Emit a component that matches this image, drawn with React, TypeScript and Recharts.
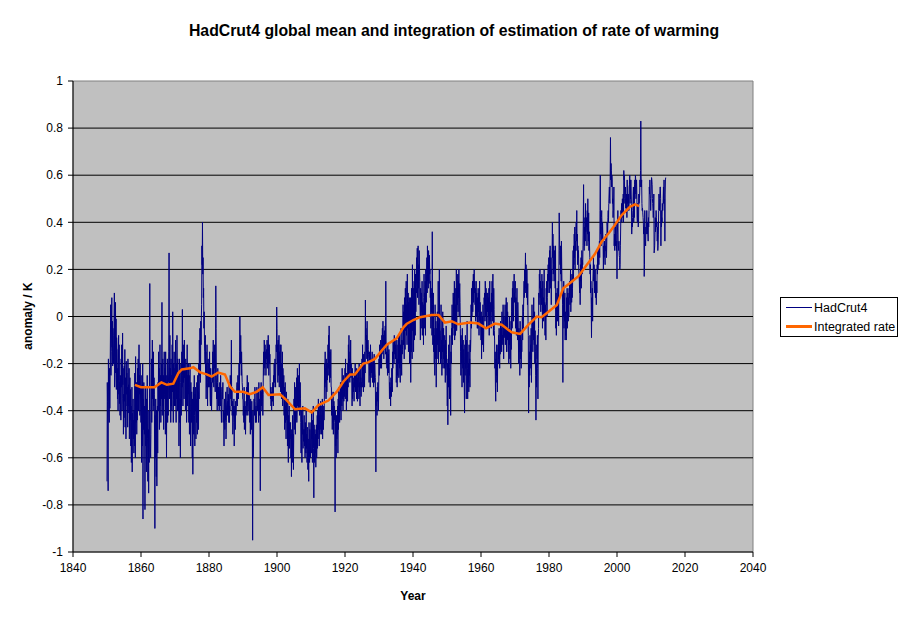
import React from 'react';
import { LineChart, Line, XAxis, YAxis, ReferenceArea, ReferenceLine, Legend } from 'recharts';

// HadCrut4 monthly anomalies in hundredths of a kelvin, one row per year (Jan..Dec)
const hadcrut1850s = [
  -70, -28, -36, -58, -74, -18, -32, -40, -45, -22, -39, -25,
  -10, 5, -25, -15, 0, 8, -13, -2, -21, -5, -8, -20,
  -18, -2, 10, -30, -26, -8, 6, -24, -1, -31, -9, -14,
  -14, -35, -22, -40, -20, -8, -33, -12, -37, -28, -42, -25,
  -26, -44, -18, -30, -12, -40, -35, -7, -29, -22, -50, -33,
  -43, -21, -36, -14, -47, -26, -31, -52, -19, -33, -24, -38,
  -30, -47, -18, -38, -29, -41, -22, -52, -35, -26, -44, -31,
  -55, -38, -62, -45, -30, -66, -41, -48, -35, -52, -44, -58,
  -40, -55, -24, -38, -60, -17, -36, -45, -28, -50, -32, -44,
  -22, -35, -18, -40, -28, -12, -33, -25, -42, -20, -30, -38,
];
const hadcrut1860s = [
  -45, -30, -62, -25, -40, -55, -20, -86, -35, -48, -28, -42,
  -50, -38, -82, -44, -30, -55, -40, -66, -35, -48, -25, -52,
  -70, -58, -48, -75, -40, -62, -35, 14, -45, -55, -60, -50,
  -30, -18, -45, -28, -10, -35, -22, -40, -15, -38, -26, -33,
  -55, -90, -42, -60, -35, -50, -68, -40, -72, -45, -38, -58,
  -28, -40, -15, -35, -22, -48, -30, -12, -38, -25, -45, -32,
  -20, -35, 6, -42, -28, -18, -38, -25, -48, -30, -15, -33,
  -35, -22, -50, -15, -40, -28, -60, -25, -38, -18, -45, -30,
  -42, -28, -15, 27, -20, -35, -8, -30, -22, -45, -18, -38,
  -25, -40, -12, -32, 2, -28, -45, -20, -35, -15, -38, -30,
];
const hadcrut1870s = [
  -22, -38, -10, -30, -45, -20, -35, -8, -28, -40, -18, -32,
  -40, -25, -55, -30, -18, -45, -35, -60, -28, -20, -42, -35,
  -15, -30, 3, -25, -38, -12, -28, -20, -35, -10, -26, -22,
  -28, -40, -18, -35, -22, -45, -30, -12, -38, -25, -33, -20,
  -30, -45, -25, -50, -35, -20, -40, -55, -28, -38, -45, -32,
  -45, -60, -35, -67, -40, -30, -50, -38, -25, -42, -55, -33,
  -40, -30, -52, -35, -45, -28, -38, -50, -25, -40, -32, -48,
  -20, -35, -10, -25, -5, -18, -28, -2, -12, 0, 5, 30,
  22, 40, 18, 25, 8, 12, -5, 2, -10, -15, -20, -8,
  -25, -15, -35, -20, -30, -12, -28, -38, -22, -18, -30, -25,
];
const hadcrut1880s = [
  -20, -30, -15, -25, -35, -38, -22, -30, -28, -40, -32, -25,
  -28, -15, -20, -10, -25, -30, -18, -22, -12, -28, -32, -20,
  13, -5, -25, -35, -30, -40, -28, -22, -35, -30, -38, -30,
  -40, -35, -28, -30, -38, -25, -33, -40, -45, -32, -30, -35,
  -35, -28, -45, -40, -42, -55, -38, -35, -48, -41, -44, -32,
  -52, -45, -38, -35, -30, -42, -36, -40, -33, -38, -45, -28,
  -45, -38, -40, -25, -30, -35, -28, -10, -38, -30, -42, -36,
  -50, -45, -38, -42, -35, -55, -40, -38, -44, -48, -36, -42,
  -40, -35, -30, -28, -38, -32, -25, -30, -35, -28, -20, -32,
  -15, 0, -12, -20, -8, -18, -25, -15, -22, -28, -30, -35,
];
const hadcrut1890s = [
  -35, -42, -38, -45, -30, -48, -40, -36, -44, -50, -38, -42,
  -40, -30, -38, -25, -35, -42, -30, -28, -36, -40, -33, -38,
  -45, -38, -50, -35, -42, -40, -48, -36, -45, -52, -95, -40,
  -60, -55, -40, -35, -38, -42, -30, -36, -45, -40, -38, -45,
  -42, -30, -35, -38, -40, -32, -36, -45, -28, -38, -42, -35,
  -40, -74, -30, -35, -28, -38, -32, -40, -36, -30, -42, -33,
  -20, -15, -25, -10, -18, -22, -12, -20, -15, -25, -18, -14,
  -18, -10, -22, -12, -20, -8, -15, -25, -18, -12, -20, -16,
  -28, -35, -30, -38, -32, -40, -35, -30, -36, -28, -33, -38,
  -25, -30, -20, -28, -22, -18, -26, -30, -20, -12, -15, 4,
];
const hadcrut1900s = [
  -5, -20, -12, -28, -10, -25, -18, -8, -30, -15, -22, -12,
  -18, -32, -12, -28, -35, -20, -30, -15, -38, -22, -27, -33,
  -25, -42, -30, -48, -35, -28, -45, -38, -52, -32, -40, -44,
  -40, -55, -35, -50, -62, -42, -48, -38, -56, -45, -52, -47,
  -45, -60, -50, -68, -48, -55, -62, -42, -58, -50, -65, -52,
  -35, -48, -28, -42, -36, -50, -30, -44, -38, -26, -45, -40,
  -22, -38, -30, -25, -40, -28, -36, -20, -42, -33, -28, -35,
  -45, -58, -40, -52, -62, -44, -50, -38, -56, -48, -53, -46,
  -42, -55, -48, -60, -45, -52, -58, -40, -56, -50, -62, -47,
  -48, -65, -52, -58, -70, -45, -55, -62, -48, -56, -60, -52,
];
const hadcrut1910s = [
  -45, -58, -40, -52, -48, -62, -44, -50, -38, -56, -77, -46,
  -55, -62, -48, -58, -50, -64, -52, -46, -60, -54, -42, -56,
  -40, -52, -35, -48, -42, -55, -46, -38, -50, -44, -36, -48,
  -42, -50, -38, -46, -35, -52, -40, -45, -48, -38, -44, -36,
  -20, -30, -15, -28, -22, -35, -18, -25, -32, -20, -27, -24,
  -12, -22, -8, -25, -4, -18, -28, -15, -20, -26, -14, -30,
  -30, -42, -35, -48, -38, -45, -32, -50, -40, -36, -44, -38,
  -45, -83, -40, -55, -48, -60, -42, -52, -46, -50, -38, -58,
  -35, -48, -30, -42, -36, -45, -32, -40, -28, -38, -44, -35,
  -28, -38, -22, -35, -30, -40, -25, -32, -36, -28, -34, -30,
];
const hadcrut1920s = [
  -22, -35, -18, -30, -28, -40, -24, -32, -26, -36, -20, -30,
  -12, -25, -8, -20, -18, -28, -15, -22, -10, -26, -20, -24,
  -25, -38, -22, -35, -28, -30, -32, -26, -36, -24, -30, -28,
  -20, -32, -25, -30, -22, -35, -28, -24, -36, -26, -30, -22,
  -24, -35, -20, -32, -28, -38, -22, -30, -26, -34, -28, -30,
  -18, -30, -12, -28, -22, -32, -16, -25, -20, -30, -15, -24,
  7, -10, -5, -15, -8, -18, -2, -12, -20, -10, -14, -16,
  -18, -28, -15, -25, -20, -30, -12, -22, -26, -18, -24, -20,
  -15, -28, -20, -25, -18, -30, -22, -16, -28, -20, -24, -26,
  -40, -66, -35, -38, -32, -42, -30, -36, -28, -34, -40, -30,
];
const hadcrut1930s = [
  -18, -25, -12, -20, -15, -22, -10, -18, -14, -22, -8, -16,
  -5, -15, -2, -12, -8, -18, -10, -6, -14, -12, -4, -16,
  15, -10, -20, -15, -22, -18, -25, -12, -20, -16, -24, -14,
  -25, -35, -28, -32, -30, -38, -26, -30, -34, -22, -28, -32,
  -15, -22, -10, -18, -12, -20, -8, -14, -16, -10, -18, -12,
  -15, -28, -22, -10, -30, -18, -25, -12, -20, -8, -26, -22,
  -8, -22, -15, -28, -12, -20, -5, -18, -25, -10, -16, -14,
  -10, 5, -12, 2, -8, -18, 8, -4, -14, 12, -6, -2,
  15, -8, 5, -12, 18, -5, 0, 10, -15, 6, -2, 8,
  -20, -5, -12, 8, -28, -3, -15, 12, -8, -18, 22, -6,
];
const hadcrut1940s = [
  -5, 12, -15, 8, 15, -10, 20, 5, -8, 18, 2, 12,
  10, 25, 15, 29, 8, 18, 30, 12, 22, 5, 28, 20,
  15, 5, -10, 12, 8, -5, 10, 2, 15, -8, 6, 0,
  5, -12, 8, 18, -5, 10, 2, 15, -8, 20, 12, 6,
  18, 25, 10, 30, 15, 22, 12, 28, 20, 14, 26, 18,
  20, 8, 15, -5, 12, 2, 10, -8, 36, 5, -12, 6,
  10, -15, -5, -20, -8, -25, 5, -12, -18, -2, -30, -10,
  -5, -18, 2, -12, -8, 15, -20, -3, -10, 20, -15, -6,
  -8, -20, -12, 5, -18, -10, -25, -5, -15, 2, -22, -12,
  -5, -18, -12, -22, -8, -15, -28, -10, -20, -4, -16, -25,
];
const hadcrut1950s = [
  -25, -38, -20, -46, -18, -30, -12, -28, -22, -35, -8, -26,
  -30, -42, -15, -20, -5, -10, 5, -12, 0, -8, 10, -2,
  8, -5, 15, -10, 2, 12, -8, 5, -2, 20, -6, 0,
  12, 5, 18, 2, 15, 8, 20, 0, 10, 14, 6, -5,
  -15, -25, -8, -20, -12, -30, -5, -18, -22, -10, -28, -14,
  -18, -30, -41, -12, -25, -8, -22, -15, -35, -10, -20, -2,
  -22, -35, -15, -28, -20, -32, -12, -25, -18, -30, -10, -15,
  -10, 5, -5, 12, 0, 8, 15, 2, 10, 18, 6, 12,
  20, 10, 15, 5, 12, -2, 8, 15, 0, 10, 5, -5,
  8, -5, 12, 2, 10, -8, 5, 15, -2, 6, 0, -4,
];
const hadcrut1960s = [
  -10, 2, -18, -5, -8, 0, -12, 5, -6, -15, -2, 8,
  5, 10, -2, 15, 8, 0, 12, 4, -5, 10, 6, 2,
  10, -5, 8, 0, 12, -8, 5, 15, -2, 6, 0, -4,
  -5, 10, 2, 15, -2, 8, 18, 5, -8, 12, 3, -6,
  -10, -22, -15, -30, -36, -18, -25, -12, -28, -20, -32, -15,
  -12, -20, -8, -18, -5, -15, -22, -10, -16, -2, -14, -8,
  -5, -15, 2, -10, -8, -12, 5, -6, -18, 0, -9, -4,
  -8, 5, -12, 0, -5, 8, -15, -2, 6, -10, 2, -4,
  -15, -5, -20, -8, -12, 0, -18, -10, -6, -22, -2, -14,
  2, 8, -5, 12, 0, 15, 5, -2, 10, 18, 6, 10,
];
const hadcrut1970s = [
  10, 15, -5, 8, 2, -8, 5, 12, -2, -10, 6, 0,
  -10, -20, -5, -15, -8, -25, -2, -12, -18, -6, -22, -10,
  -15, -8, 0, -10, 5, -5, 2, 10, 15, 8, 20, 12,
  18, 27, 10, 22, 15, 8, 20, 12, 5, 14, -2, -8,
  -41, -20, -30, -15, -25, -8, -18, -12, -22, -5, -28, -15,
  5, -8, -2, -15, 0, -10, 8, -5, -12, 2, -20, -6,
  -15, -25, -44, -20, -30, -12, -18, -8, -22, -35, -10, -5,
  10, 5, 18, 12, 20, 8, 15, 2, 12, 5, 8, 18,
  10, -5, 15, 2, 8, -2, 12, 20, 0, 6, -8, 5,
  2, -10, 12, 5, 15, 0, 8, 18, 10, 22, 15, 25,
];
const hadcrut1980s = [
  22, 10, 28, 15, 30, 12, 18, 25, 5, 20, 15, 28,
  40, 25, 35, 18, 22, 30, 15, 28, 20, 25, 12, 30,
  -5, 10, -8, 5, 0, 12, -2, 8, 2, 15, -4, 20,
  44, 35, 28, 22, 30, 18, 25, 15, 32, 20, 12, 10,
  5, -28, 12, 0, 15, -5, 8, -2, 10, -10, 2, -8,
  0, -10, 8, 2, 12, -5, 5, 10, -2, 8, 0, 12,
  8, 15, 5, 12, 20, 2, 10, 15, 6, 18, 8, 12,
  20, 28, 15, 30, 22, 35, 25, 38, 20, 32, 28, 36,
  40, 32, 45, 28, 35, 22, 30, 25, 28, 20, 18, 15,
  10, 18, 5, 22, 15, 25, 12, 20, 28, 18, 24, 22,
];
const hadcrut1990s = [
  30, 40, 56, 35, 28, 38, 30, 42, 32, 48, 36, 40,
  38, 42, 30, 45, 35, 50, 40, 32, 44, 28, 36, 30,
  25, 18, 22, 10, 15, 5, -9, 8, 2, 12, -2, 15,
  20, 25, 15, 22, 18, 10, 12, 20, 8, 15, 10, 5,
  15, 10, 22, 18, 28, 20, 25, 30, 22, 28, 32, 25,
  45, 60, 35, 38, 30, 42, 45, 38, 32, 40, 35, 30,
  20, 30, 25, 28, 32, 25, 22, 30, 28, 35, 30, 25,
  32, 40, 38, 35, 42, 45, 40, 48, 52, 55, 50, 48,
  60, 76, 58, 65, 62, 55, 60, 58, 48, 50, 42, 45,
  45, 55, 30, 35, 28, 32, 38, 30, 35, 40, 28, 32,
];
const hadcrut2000s = [
  16, 35, 38, 45, 32, 30, 28, 32, 26, 25, 20, 22,
  30, 38, 45, 42, 48, 40, 45, 50, 44, 42, 52, 40,
  62, 58, 60, 50, 48, 52, 55, 46, 50, 44, 52, 42,
  58, 48, 50, 45, 52, 48, 45, 55, 56, 60, 48, 58,
  50, 58, 52, 48, 35, 40, 38, 42, 45, 52, 55, 40,
  52, 42, 56, 58, 52, 60, 58, 50, 55, 58, 52, 42,
  40, 48, 42, 38, 40, 52, 48, 50, 52, 58, 55, 62,
  83, 60, 55, 58, 48, 45, 46, 44, 42, 40, 35, 38,
  17, 22, 45, 35, 32, 30, 38, 35, 38, 45, 40, 35,
  40, 35, 32, 42, 38, 45, 55, 52, 58, 52, 50, 45,
];
const hadcrut2010s = [
  50, 55, 59, 58, 56, 50, 48, 45, 42, 45, 52, 27,
  28, 30, 35, 42, 36, 40, 45, 42, 38, 40, 32, 38,
  28, 30, 35, 45, 52, 50, 45, 50, 55, 55, 50, 30,
  45, 38, 42, 40, 48, 45, 45, 50, 55, 48, 58, 50,
  50, 32, 52, 58, 59,
];

const decadeStarts = [1850, 1860, 1870, 1880, 1890, 1900, 1910, 1920, 1930, 1940, 1950, 1960, 1970, 1980, 1990, 2000, 2010];
const decadeValues = [
  hadcrut1850s, hadcrut1860s, hadcrut1870s, hadcrut1880s, hadcrut1890s, hadcrut1900s,
  hadcrut1910s, hadcrut1920s, hadcrut1930s, hadcrut1940s, hadcrut1950s, hadcrut1960s,
  hadcrut1970s, hadcrut1980s, hadcrut1990s, hadcrut2000s, hadcrut2010s,
];

// integrated rate of warming (smoothed)
const integYears = [
  1858.2, 1860, 1862, 1864, 1866, 1867.6, 1869.5, 1871, 1872, 1874.4, 1875.4, 1877.4, 1879.3,
  1880.8, 1882.7, 1884.7, 1886.2, 1887.6, 1890, 1892, 1894, 1895.8, 1897.5, 1900.9, 1902.8,
  1905.3, 1908.2, 1910.2, 1912.2, 1915.1, 1917.6, 1919.5, 1921.5, 1922.9, 1925.4, 1926.8,
  1928.8, 1930.8, 1932.3, 1935.2, 1937.2, 1938.1, 1940.1, 1942.1, 1945.5, 1947.5, 1949.4,
  1951.4, 1953.3, 1956.8, 1959.2, 1961.5, 1964.1, 1966.1, 1969, 1971.5, 1973.9, 1976.4,
  1977.8, 1979.3, 1982.3, 1984.2, 1986.2, 1988.6, 1991.1, 1993.5, 1995.5, 1997.9, 1999.4,
  2001.4, 2003.8, 2005.3, 2006.5,
];
const integValues = [
  -0.29, -0.30, -0.30, -0.30, -0.28, -0.29, -0.285, -0.24, -0.225, -0.22, -0.215, -0.237, -0.246,
  -0.255, -0.238, -0.246, -0.298, -0.32, -0.32, -0.33, -0.32, -0.30, -0.333, -0.33, -0.355,
  -0.394, -0.39, -0.407, -0.376, -0.357, -0.319, -0.277, -0.246, -0.246, -0.20, -0.195,
  -0.18, -0.145, -0.12, -0.093, -0.046, -0.032, -0.015, -0.003, 0.006, 0.006, -0.026,
  -0.02, -0.033, -0.026, -0.03, -0.05, -0.03, -0.035, -0.067, -0.074, -0.036, 0.0,
  -0.003, 0.014, 0.049, 0.12, 0.142, 0.17, 0.219, 0.265, 0.318, 0.36, 0.389,
  0.431, 0.466, 0.476, 0.469,
];

const yTicks = [-1, -0.8, -0.6, -0.4, -0.2, 0, 0.2, 0.4, 0.6, 0.8, 1];
const gridValues = [-0.8, -0.6, -0.4, -0.2, 0, 0.2, 0.4, 0.6, 0.8];
const xTicks = [1840, 1860, 1880, 1900, 1920, 1940, 1960, 1980, 2000, 2020, 2040];

const hadcrutData = decadeStarts.flatMap((start, d) =>
  decadeValues[d].map((v, i) => ({ year: start + i / 12, anomaly: v / 100 })),
);
const integData = integYears.map((year, i) => ({ year, rate: integValues[i] }));

const FONT = '"Liberation Sans", Arial, sans-serif';

const LegendBox = () => (
  <div
    style={{
      width: 116,
      height: 38,
      border: '1px solid #000',
      background: '#fff',
      fontFamily: FONT,
      fontSize: 12.5,
      color: '#000',
      boxSizing: 'content-box',
    }}
  >
    <div style={{ display: 'flex', alignItems: 'center', height: 19, paddingLeft: 5 }}>
      <span style={{ display: 'inline-block', width: 26, height: 1, background: '#000080', marginRight: 2 }} />
      <span>HadCrut4</span>
    </div>
    <div style={{ display: 'flex', alignItems: 'center', height: 19, paddingLeft: 5 }}>
      <span style={{ display: 'inline-block', width: 26, height: 3, background: '#FF6600', marginRight: 2 }} />
      <span>Integrated rate</span>
    </div>
  </div>
);

export default function App() {
  return (
    <div style={{ position: 'absolute', left: 0, top: 0, width: 908, height: 623, background: '#fff' }}>
      <div
        style={{
          position: 'absolute',
          left: 0,
          width: 908,
          top: 22,
          textAlign: 'center',
          fontFamily: FONT,
          fontWeight: 'bold',
          fontSize: 15.8,
          color: '#000',
        }}
      >
        HadCrut4 global mean and integration of estimation of rate of warming
      </div>
      <div
        style={{
          position: 'absolute',
          left: 28,
          top: 316,
          transform: 'translate(-50%, -50%) rotate(-90deg)',
          whiteSpace: 'nowrap',
          fontFamily: FONT,
          fontWeight: 'bold',
          fontSize: 12,
        }}
      >
        anomaly / K
      </div>
      <div
        style={{
          position: 'absolute',
          left: 413,
          top: 596,
          transform: 'translate(-50%, -50%)',
          fontFamily: FONT,
          fontWeight: 'bold',
          fontSize: 12,
        }}
      >
        Year
      </div>
      <LineChart width={908} height={623} margin={{ top: 81, right: 155, bottom: 0, left: 0 }}>
        <ReferenceArea
          x1={1840}
          x2={2040}
          y1={-1}
          y2={1}
          fill="#c0c0c0"
          fillOpacity={1}
          stroke="#808080"
          strokeWidth={1}
          ifOverflow="visible"
        />
        {gridValues.map((v) => (
          <ReferenceLine key={v} y={v} stroke="#000" strokeWidth={1} />
        ))}
        <XAxis
          type="number"
          dataKey="year"
          domain={[1840, 2040]}
          ticks={xTicks}
          allowDataOverflow
          height={71}
          stroke="#000"
          tickSize={5}
          tickMargin={6}
          tick={{ fill: '#000', fontSize: 12, fontFamily: FONT }}
        />
        <YAxis
          type="number"
          domain={[-1, 1]}
          ticks={yTicks}
          width={73}
          stroke="#000"
          tickSize={5}
          tickMargin={5}
          tickFormatter={(v: number) => String(v)}
          tick={{ fill: '#000', fontSize: 12, fontFamily: FONT }}
        />
        <Line
          data={hadcrutData}
          dataKey="anomaly"
          name="HadCrut4"
          stroke="#000080"
          strokeWidth={1}
          dot={false}
          activeDot={false}
          isAnimationActive={false}
        />
        <Line
          data={integData}
          dataKey="rate"
          name="Integrated rate"
          stroke="#FF6600"
          strokeWidth={2.5}
          dot={false}
          activeDot={false}
          isAnimationActive={false}
        />
        <Legend
          layout="horizontal"
          align="center"
          verticalAlign="middle"
          content={() => <LegendBox />}
          wrapperStyle={{ position: 'absolute', left: 780, top: 297, width: 118, height: 40 }}
        />
      </LineChart>
    </div>
  );
}
